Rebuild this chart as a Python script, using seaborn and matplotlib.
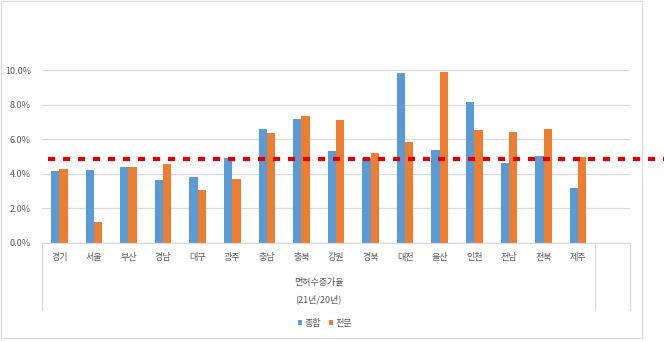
import matplotlib
matplotlib.use("Agg")
import matplotlib.pyplot as plt
import matplotlib.transforms as mtransforms
from matplotlib.patches import Rectangle
import pandas as pd
import seaborn as sns

# 시도별 면허수 증가율 (21년/20년), 단위 %
regions = ["경기", "서울", "부산", "경남", "대구", "광주", "충남", "충북",
           "강원", "경북", "대전", "울산", "인천", "전남", "전북", "제주"]
general = [4.19, 4.24, 4.38, 3.65, 3.84, 4.91, 6.60, 7.19,
           5.33, 4.93, 9.85, 5.37, 8.13, 4.65, 5.01, 3.17]
special = [4.30, 1.22, 4.38, 4.55, 3.06, 3.69, 6.37, 7.32,
           7.09, 5.18, 5.83, 9.90, 6.52, 6.39, 6.60, 4.99]
series_names = ["종합", "전문"]
average_rate = 4.88
y_ticks = [0, 2, 4, 6, 8, 10]
group_title = ["면허수증가율", "(21년/20년)"]

df = pd.DataFrame({
    "region": regions * 2,
    "rate": general + special,
    "kind": [series_names[0]] * len(regions) + [series_names[1]] * len(regions),
})

sns.set_theme(style="white")
plt.rcParams["font.family"] = ["Noto Sans CJK KR", "DejaVu Sans"]

text_color = "#595959"
grid_color = "#D9D9D9"
palette = {series_names[0]: "#5B9BD5", series_names[1]: "#ED7D31"}

fig = plt.figure(figsize=(6.64, 3.42), dpi=100)
ax = fig.add_axes([42 / 664, 1 - 243 / 342, 588 / 664, 173 / 342])

order = regions + [""]
sns.barplot(data=df, x="region", y="rate", hue="kind", order=order,
            hue_order=series_names, palette=palette, width=0.48, gap=0,
            saturation=1, linewidth=0, edgecolor="none", ax=ax, legend=True)

ax.set_xlim(-0.5, len(order) - 0.5)
ax.set_ylim(0, 10)
ax.set_yticks(y_ticks)
ax.set_yticklabels([f"{v:.1f}%" for v in y_ticks])
ax.yaxis.grid(True, color=grid_color, linewidth=0.9)
ax.set_axisbelow(True)
for side in ["top", "right", "left"]:
    ax.spines[side].set_visible(False)
ax.spines["bottom"].set_color(grid_color)
ax.spines["bottom"].set_linewidth(0.9)
ax.tick_params(axis="both", length=0, labelsize=6.5, labelcolor=text_color)
ax.tick_params(axis="y", pad=8)
ax.tick_params(axis="x", pad=7)
ax.set_xlabel("")
ax.set_ylabel("")

# 다단 범주 축의 구분선
trans = mtransforms.blended_transform_factory(ax.transData, ax.transAxes)
y_low = -(310 - 243) / 173
for xpos in [-0.5, len(regions) - 0.5, len(order) - 0.5]:
    top = 0 if xpos == -0.5 else -2 / 173
    ax.plot([xpos, xpos], [top, y_low], transform=trans, color=grid_color,
            linewidth=0.9, clip_on=False)

# 상위 범주 제목
center = (len(regions) - 1) / 2
ax.text(center, -(283 - 243) / 173, group_title[0], transform=trans,
        ha="center", va="center", fontsize=6.5, color=text_color)
ax.text(center, -(299 - 243) / 173, group_title[1], transform=trans,
        ha="center", va="center", fontsize=6.5, color=text_color)

# 평균 증가율 점선
ax.axhline(average_rate, xmin=0.01, xmax=1 + 34 / 588, color="#E00000",
           linewidth=3, linestyle=(0, (1.7, 1.9)), clip_on=False, zorder=5)

# 범례
handles, labels = ax.get_legend_handles_labels()
ax.get_legend().remove()
fig.legend(handles, labels, loc="center", bbox_to_anchor=(325 / 664, 1 - 323 / 342),
           ncol=2, frameon=False, fontsize=6.5, labelcolor=text_color,
           handlelength=0.5, handleheight=0.5, handletextpad=0.3,
           columnspacing=0.8, borderpad=0)

# 차트 영역 테두리
fig.patches.append(Rectangle((1 / 664, 1 - 338 / 342), 641 / 664, 337 / 342,
                             transform=fig.transFigure, fill=False,
                             edgecolor=grid_color, linewidth=0.9))

fig.savefig("out.png", dpi=100)
